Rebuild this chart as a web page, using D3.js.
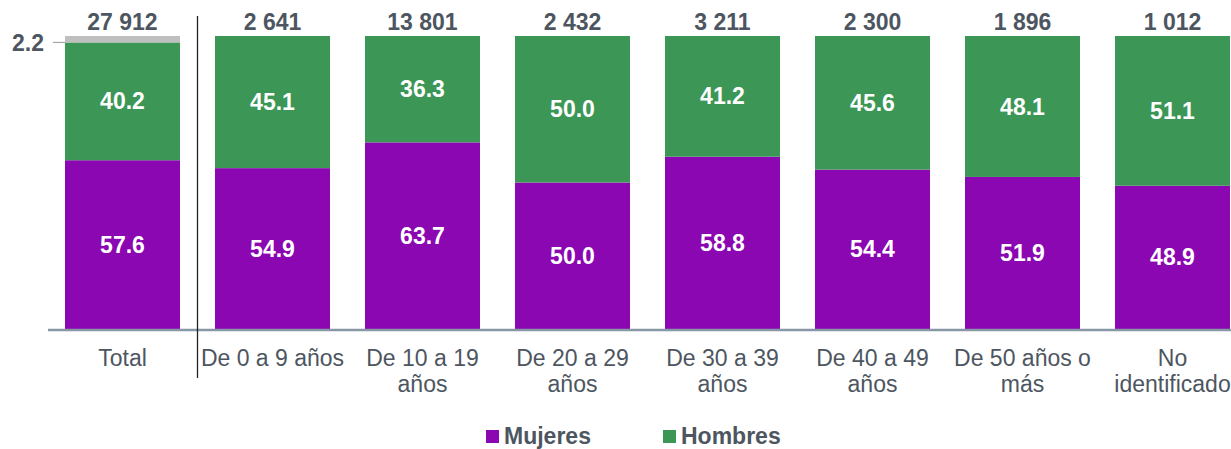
<!DOCTYPE html>
<html>
<head>
<meta charset="utf-8">
<script src="https://cdn.jsdelivr.net/npm/d3@7"></script>
<style>
body { margin: 0; background: #fff; }
text { font-family: Arial, "Liberation Sans", sans-serif; }
</style>
</head>
<body>
<div id="chart"></div>
<script>
const categories = ['Total', 'De 0 a 9 años', 'De 10 a 19 años', 'De 20 a 29 años', 'De 30 a 39 años', 'De 40 a 49 años', 'De 50 años o más', 'No identificado'];
const labelLines = [['Total'], ['De 0 a 9 años'], ['De 10 a 19', 'años'], ['De 20 a 29', 'años'], ['De 30 a 39', 'años'], ['De 40 a 49', 'años'], ['De 50 años o', 'más'], ['No', 'identificado']];
const mujeres = [57.6, 54.9, 63.7, 50.0, 58.8, 54.4, 51.9, 48.9];
const hombres = [40.2, 45.1, 36.3, 50.0, 41.2, 45.6, 48.1, 51.1];
const noIdent = [2.2, 0, 0, 0, 0, 0, 0, 0];
const totals = ['27 912', '2 641', '13 801', '2 432', '3 211', '2 300', '1 896', '1 012'];

const width = 1231, height = 449;
const textColor = '#4d5660';
const fs = '23px';
const colors = {Mujeres: '#8a07b1', Hombres: '#3c9655', NoIdent: '#bfbfbf'};

const svg = d3.select('#chart').append('svg')
    .attr('width', width).attr('height', height);

let x = d3.scaleBand().domain(categories).range([47.5, 1247.5])
    .paddingInner(35/150).paddingOuter(35/300);
let y = d3.scaleLinear().domain([0, 100]).range([329, 36]);

let rows = categories.map((c, i) => ({cat: c, Mujeres: mujeres[i], Hombres: hombres[i], NoIdent: noIdent[i]}));
let stack = d3.stack().keys(['Mujeres', 'Hombres', 'NoIdent'])(rows);

let groups = svg.selectAll('g.series').data(stack).enter()
    .append('g').attr('class', 'series')
    .attr('fill', d => colors[d.key]);

groups.selectAll('rect').data(d => d).enter()
    .append('rect')
    .attr('x', d => x(d.data.cat))
    .attr('width', x.bandwidth())
    .attr('y', d => y(d[1]))
    .attr('height', d => y(d[0]) - y(d[1]));

// value labels inside segments
stack.slice(0, 2).forEach(s => {
    svg.selectAll(null).data(s).enter()
        .append('text')
        .attr('x', d => x(d.data.cat) + x.bandwidth()/2)
        .attr('y', d => (y(d[0]) + y(d[1]))/2)
        .attr('dy', '0.35em')
        .attr('text-anchor', 'middle')
        .style('fill', '#fff')
        .style('font-weight', 'bold')
        .style('font-size', fs)
        .text(d => d.data[s.key].toFixed(1));
});

// totals above bars
svg.selectAll('.total').data(categories).enter()
    .append('text')
    .attr('x', d => x(d) + x.bandwidth()/2)
    .attr('y', y(100) - 6)
    .attr('text-anchor', 'middle')
    .style('fill', textColor)
    .style('font-weight', 'bold')
    .style('font-size', fs)
    .text((d, i) => totals[i]);

// 2.2 label with leader for the small gray segment
let grayMid = y(100 - noIdent[0]);
svg.append('line')
    .attr('x1', 53).attr('x2', x('Total'))
    .attr('y1', grayMid).attr('y2', grayMid)
    .style('stroke', '#a6a6a6').style('stroke-width', 1.2);
svg.append('text')
    .attr('x', 44).attr('y', grayMid + 1)
    .attr('dy', '0.35em')
    .attr('text-anchor', 'end')
    .style('fill', textColor)
    .style('font-weight', 'bold')
    .style('font-size', fs)
    .text(noIdent[0].toFixed(1));

// baseline
svg.append('line')
    .attr('x1', 48).attr('x2', width)
    .attr('y1', y(0) + 1).attr('y2', y(0) + 1)
    .style('stroke', '#8797a6').style('stroke-width', 2.5);

// x labels
let xl = svg.selectAll('.xlab').data(categories).enter()
    .append('text')
    .attr('text-anchor', 'middle')
    .style('fill', textColor)
    .style('font-size', fs);
xl.each(function(d, i) {
    d3.select(this).selectAll('tspan').data(labelLines[i]).enter()
        .append('tspan')
        .attr('x', x(d) + x.bandwidth()/2)
        .attr('y', (t, j) => 366 + j*26)
        .text(t => t);
});

// divider between Total and age groups
svg.append('line')
    .attr('x1', 197.5).attr('x2', 197.5)
    .attr('y1', 16).attr('y2', 378)
    .style('stroke', '#222').style('stroke-width', 1.3);

// legend
const legend = [['Mujeres', colors.Mujeres, 486], ['Hombres', colors.Hombres, 663]];
legend.forEach(l => {
    svg.append('rect').attr('x', l[2]).attr('y', 430).attr('width', 13).attr('height', 13).attr('fill', l[1]);
    svg.append('text').attr('x', l[2] + 18).attr('y', 444)
        .style('fill', textColor).style('font-weight', 'bold').style('font-size', fs)
        .text(l[0]);
});
</script>
</body>
</html>
